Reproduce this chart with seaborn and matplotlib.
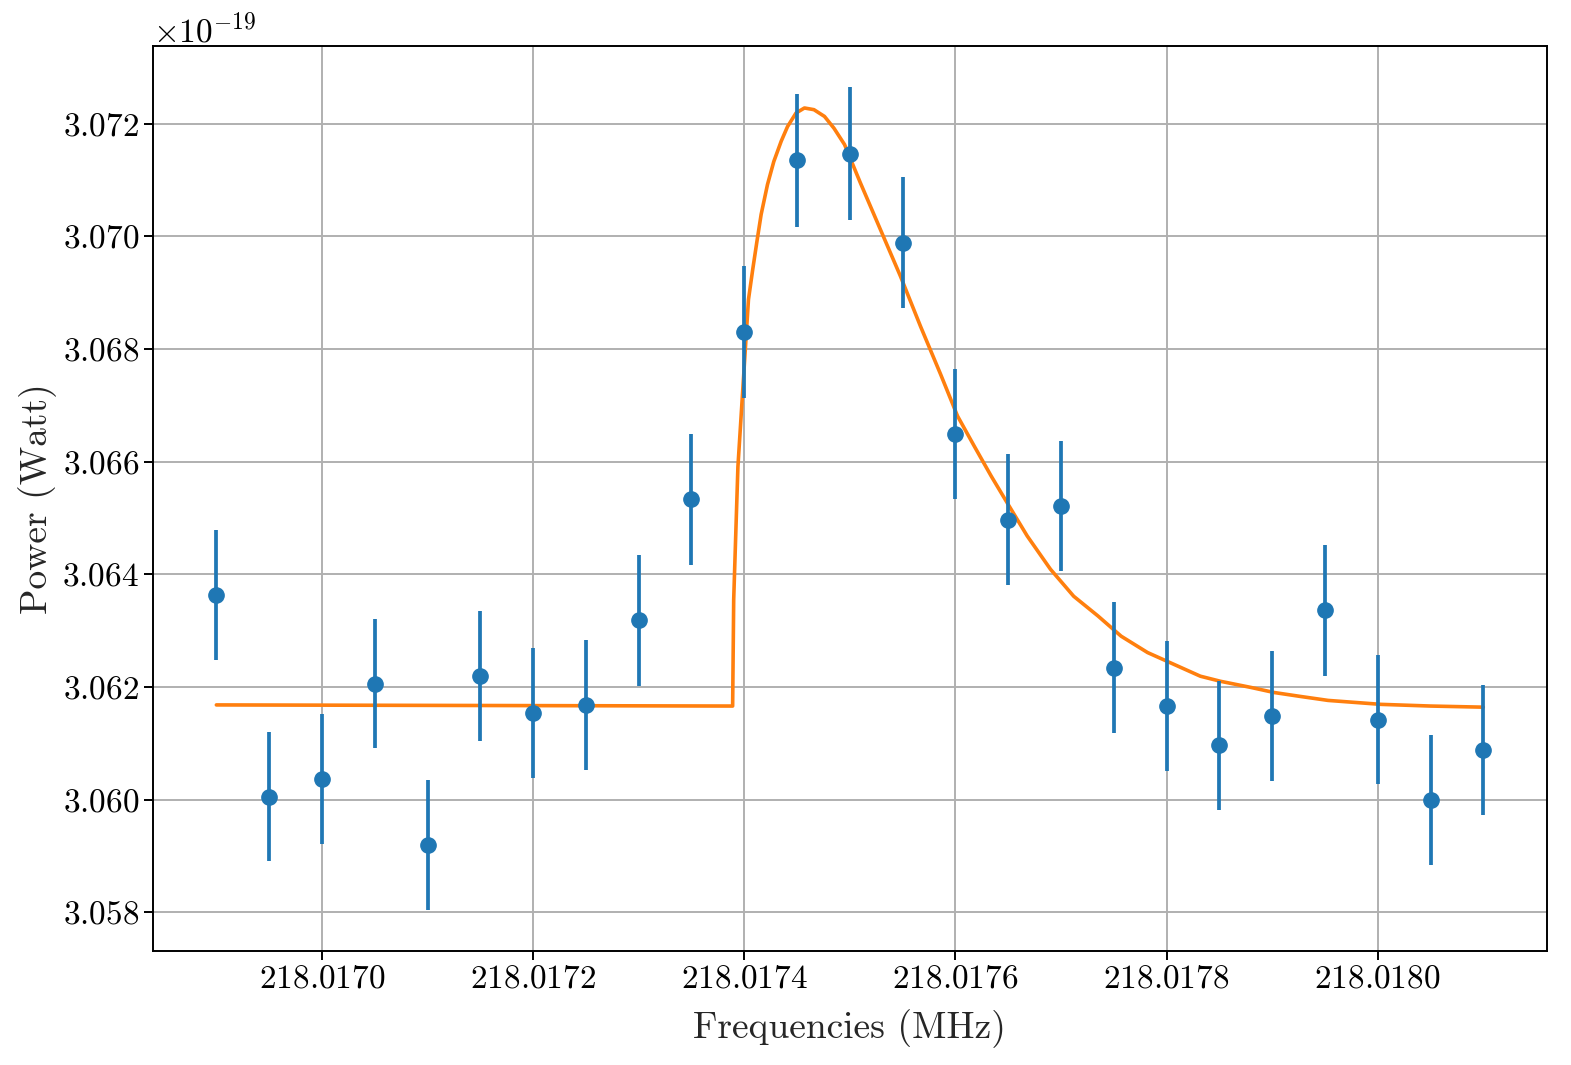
import numpy as np
import matplotlib
matplotlib.use("Agg")
import matplotlib.pyplot as plt
import seaborn as sns

# measured points (frequency in MHz, power in units of 1e-19 W)
freq = [218.01690, 218.01695, 218.01700, 218.01705, 218.01710, 218.01715, 218.01720,
        218.01725, 218.01730, 218.01735, 218.01740, 218.01745, 218.01750, 218.01755,
        218.01760, 218.01765, 218.01770, 218.01775, 218.01780, 218.01785, 218.01790,
        218.01795, 218.01800, 218.01805, 218.01810]
power = [3.06363, 3.06005, 3.06036, 3.06206, 3.05919, 3.06219, 3.06154, 3.06168,
         3.06318, 3.06533, 3.06830, 3.07135, 3.07147, 3.06989, 3.06649, 3.06497,
         3.06521, 3.06234, 3.06166, 3.06096, 3.06148, 3.06336, 3.06142, 3.05999,
         3.06088]
power_err = [0.00115, 0.00115, 0.00115, 0.00115, 0.00115, 0.00115, 0.00115, 0.00115,
             0.00116, 0.00116, 0.00117, 0.00118, 0.00118, 0.00117, 0.00116, 0.00116,
             0.00116, 0.00116, 0.00115, 0.00115, 0.00115, 0.00116, 0.00115, 0.00115,
             0.00115]

# fitted curve
fit_freq = [218.016900, 218.017389, 218.017390, 218.017392, 218.017394, 218.017398,
            218.017402, 218.017404, 218.017408, 218.017412, 218.017416, 218.017422,
            218.017428, 218.017435, 218.017441, 218.017449, 218.017457, 218.017466,
            218.017476, 218.017485, 218.017495, 218.017510, 218.017529, 218.017548,
            218.017567, 218.017586, 218.017602, 218.017618, 218.017634, 218.017649,
            218.017668, 218.017690, 218.017712, 218.017735, 218.017757, 218.017782,
            218.017807, 218.017832, 218.017851, 218.017880, 218.017902, 218.017927,
            218.017953, 218.018003, 218.018050, 218.018100]
fit_power = [3.06168, 3.06166, 3.06355, 3.06474, 3.06591, 3.06710, 3.06829, 3.06888,
             3.06941, 3.06991, 3.07039, 3.07092, 3.07133, 3.07169, 3.07195, 3.07219,
             3.07228, 3.07225, 3.07213, 3.07192, 3.07163, 3.07095, 3.07012, 3.06929,
             3.06840, 3.06755, 3.06681, 3.06627, 3.06574, 3.06527, 3.06468, 3.06409,
             3.06361, 3.06326, 3.06290, 3.06261, 3.06240, 3.06219, 3.06210, 3.06199,
             3.06190, 3.06183, 3.06176, 3.06169, 3.06166, 3.06164]

sns.set_style("ticks")
plt.rcParams.update({
    "font.family": "serif",
    "font.serif": ["cmr10", "DejaVu Serif"],
    "mathtext.fontset": "cm",
    "axes.formatter.use_mathtext": True,
    "axes.unicode_minus": False,
    "axes.edgecolor": "black",
    "axes.linewidth": 1.4,
    "xtick.color": "black",
    "ytick.color": "black",
    "xtick.major.size": 6.5,
    "ytick.major.size": 6.5,
    "xtick.major.width": 1.4,
    "ytick.major.width": 1.4,
})

fig, ax = plt.subplots(figsize=(15.71, 10.65), dpi=100)
fig.subplots_adjust(left=0.0974, right=0.9845, top=0.9568, bottom=0.107)

sns.lineplot(x=fit_freq, y=np.array(fit_power) * 1e-19, ax=ax, color="#ff7f0e",
             linewidth=2.6, sort=False, zorder=2)
ax.errorbar(freq, np.array(power) * 1e-19, yerr=np.array(power_err) * 1e-19,
            fmt="o", color="#1f77b4", markersize=11, elinewidth=2.7, zorder=3)

ax.grid(True, color="#b0b0b0", linewidth=1.4)
ax.set_axisbelow(True)
ax.ticklabel_format(axis="x", useOffset=False)
ax.ticklabel_format(axis="y", useOffset=False, style="sci", scilimits=(0, 0))
ax.tick_params(labelsize=24)
ax.yaxis.get_offset_text().set_fontsize(24)

ax.set_xlabel("Frequencies (MHz)", fontsize=27, labelpad=11)
ax.set_ylabel("Power (Watt)", fontsize=27)

fig.savefig("out.png", dpi=100)
